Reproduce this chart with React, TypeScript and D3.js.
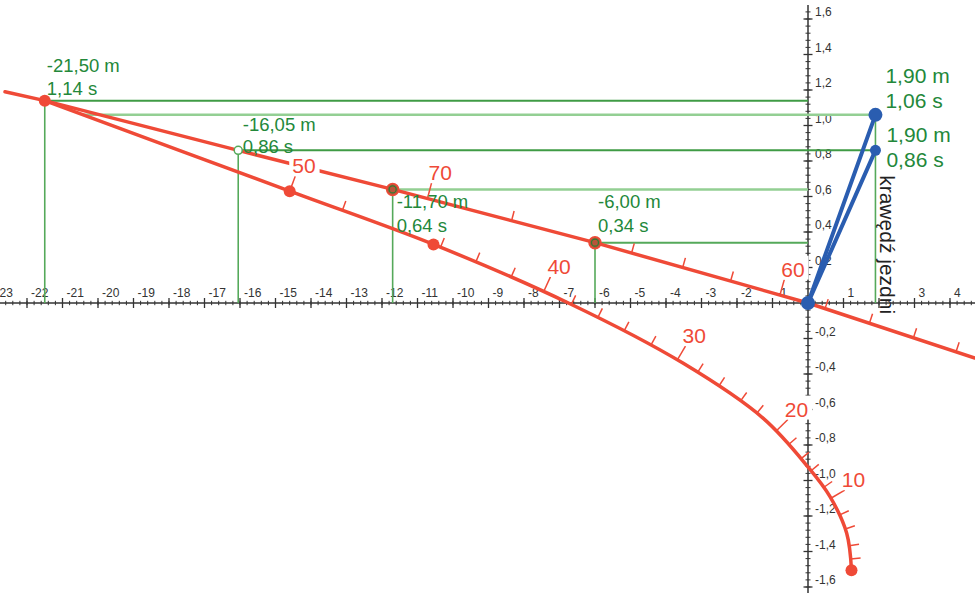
import React from 'react';
import * as d3 from 'd3';

const W = 975;
const H = 593;

// ---- axis ticks ----
const xMajorTicks: number[] = d3.range(-23, 5);
const xHiddenLabels: number[] = [0, 2];
const xMinorTicks: number[] = d3.range(-115, 25).map((i) => i * 0.2);
const yMajorTicks: number[] = d3.range(-8, 9).map((i) => +(i * 0.2).toFixed(2));
const yMinorTicks: number[] = d3.range(-41, 42).map((i) => +(i * 0.04).toFixed(3));

// ---- paths: [distance (m), time (s)] ----
const upperLine: [number, number][] = [
  [-22.62, 1.19], [-21.5, 1.14], [-16.05, 0.86], [-11.7, 0.64], [-6.0, 0.34], [0, 0], [4.7, -0.31],
];
const lowerCurve: [number, number][] = [
  [-21.5, 1.14], [-14.6, 0.63], [-10.55, 0.33], [-6.75, 0], [-3.513, -0.34],
  [-1.259, -0.65], [0.008, -0.926], [0.62, -1.091], [1.09, -1.297], [1.225, -1.505],
];

// ticks along the lower curve (by time value) and long labelled ones
const lowerTicks: number[] = [
  0.522, 0.314, 0.232, 0.147, -0.008, -0.081, -0.156, -0.236, -0.39, -0.466, -0.55, -0.62,
  -0.796, -0.877, -0.945, -1.038, -1.194, -1.273, -1.367, -1.442,
];
const lowerMarkT: number[] = [0.63, 0.065, -0.32, -0.72, -1.1];
const lowerMarkLabel: string[] = ['50', '40', '30', '20', '10'];

// ticks along the upper line (by distance value)
const upperTicks: number[] = [-8.35, -4.97, -3.53, -2.18, 0.48, 1.73, 2.97, 4.17];
const upperMarkX: number[] = [-10.72, -0.79];
const upperMarkLabel: string[] = ['70', '60'];

// annotated points
const annDist: number[] = [-21.5, -16.05, -11.7, -6.0, 1.9, 1.9];
const annTime: number[] = [1.14, 0.86, 0.64, 0.34, 1.06, 0.86];

// lower-curve dots
const lowerDots: [number, number][] = [[-21.5, 1.14], [-14.6, 0.63], [-10.55, 0.33], [1.225, -1.505]];

const RED = '#ef4a37';
const BLUE = '#2a5db0';
const GREEN_TXT = '#23883a';
const GREEN_DARK = '#3f9b45';
const GREEN_LIGHT = '#93cf93';
const GREEN_MID = '#55a95a';
const AXIS = '#333';
const FONT = '"Liberation Sans", Arial, sans-serif';

const fmtComma = (v: number, d: number) => v.toFixed(d).replace('.', ',');

type P = [number, number];

// sample a d3 curve into a dense polyline (pixel space)
function densify(pts: P[], curve: d3.CurveFactory): P[] {
  const out: P[] = [];
  let cx = 0;
  let cy = 0;
  const ctx: any = {
    moveTo(x: number, y: number) { cx = x; cy = y; out.push([x, y]); },
    lineTo(x: number, y: number) { cx = x; cy = y; out.push([x, y]); },
    bezierCurveTo(x1: number, y1: number, x2: number, y2: number, x: number, y: number) {
      for (let k = 1; k <= 30; k++) {
        const s = k / 30;
        const u = 1 - s;
        out.push([
          u * u * u * cx + 3 * u * u * s * x1 + 3 * u * s * s * x2 + s * s * s * x,
          u * u * u * cy + 3 * u * u * s * y1 + 3 * u * s * s * y2 + s * s * s * y,
        ]);
      }
      cx = x; cy = y;
    },
    closePath() {},
  };
  d3.line<P>().curve(curve).context(ctx)(pts);
  return out;
}

function interpBy(pts: P[], key: 0 | 1, v: number): P {
  for (let i = 0; i < pts.length - 1; i++) {
    const a = pts[i][key];
    const b = pts[i + 1][key];
    if (a !== b && (v - a) * (v - b) <= 0) {
      const f = (v - a) / (b - a);
      return [
        pts[i][0] + f * (pts[i + 1][0] - pts[i][0]),
        pts[i][1] + f * (pts[i + 1][1] - pts[i][1]),
      ];
    }
  }
  return pts[pts.length - 1];
}

export default function App() {
  const xS = d3.scaleLinear().domain([0, 1]).range([808, 843.5]);
  const yS = d3.scaleLinear().domain([0, 1]).range([303, 125.5]);
  const toPx = (d: P): P => [xS(d[0]), yS(d[1])];

  const upperPx = upperLine.map(toPx);
  const lowerPx = lowerCurve.map(toPx);
  const lowerDense = densify(lowerPx, d3.curveCatmullRom.alpha(0.5));

  // key 1: parameterised by pixel y (from time), key 0: by pixel x (from distance)
  const tickGeom = (poly: P[], key: 0 | 1, pv: number, len: number) => {
    const p = interpBy(poly, key, pv);
    const a = interpBy(poly, key, pv - 2);
    const b = interpBy(poly, key, pv + 2);
    let dx = b[0] - a[0];
    let dy = b[1] - a[1];
    const L = Math.hypot(dx, dy) || 1;
    dx /= L;
    dy /= L;
    return { x0: p[0], y0: p[1], x1: p[0] + dy * len, y1: p[1] - dx * len };
  };
  const lowerTick = (t: number, len: number) => tickGeom(lowerDense, 1, yS(t), len);
  const upperTick = (x: number, len: number) => tickGeom(upperPx, 0, xS(x), len);

  const upperGen = d3.line<P>();
  const lowerGen = d3.line<P>().curve(d3.curveCatmullRom.alpha(0.5));

  const x0Axis = xS(0);
  const y0Axis = yS(0);

  // green guides
  const lowerAt106 = interpBy(lowerDense, 1, yS(1.06))[0];
  const hGuides = [
    { t: 1.14, a: xS(-21.5), b: xS(0), c: GREEN_DARK, w: 2 },
    { t: 1.06, a: lowerAt106, b: xS(1.9), c: GREEN_LIGHT, w: 2.5 },
    { t: 0.86, a: xS(-16.05), b: xS(1.9), c: GREEN_DARK, w: 2 },
    { t: 0.64, a: xS(-11.7), b: xS(0), c: GREEN_LIGHT, w: 2.5 },
    { t: 0.34, a: xS(-6.0), b: xS(0), c: GREEN_MID, w: 2 },
  ];
  const vGuides = [0, 1, 2, 3, 4].map((i) => ({ x: annDist[i], t: annTime[i] }));

  const annStyle = [
    { dx: 2, dy: -29, gap: 23, fs: 18.5 },
    { dx: 4.5, dy: -19, gap: 22, fs: 18.5 },
    { dx: 4, dy: 19, gap: 23.5, fs: 18.5 },
    { dx: 3, dy: -35, gap: 24, fs: 18.5 },
    { dx: 10, dy: -32, gap: 25, fs: 21 },
    { dx: 11, dy: -8, gap: 25, fs: 21 },
  ];

  const redFs = 21;
  const redMarks = [
    ...lowerMarkT.map((t, i) => ({ g: lowerTick(t, 16), label: lowerMarkLabel[i] })),
    ...upperMarkX.map((x, i) => ({ g: upperTick(x, 16), label: upperMarkLabel[i] })),
  ];

  return (
    <svg
      width={W}
      height={H}
      style={{ position: 'absolute', left: 0, top: 0, background: '#fff' }}
      fontFamily={FONT}
    >
      <rect x={0} y={0} width={W} height={H} fill="#fff" />

      {/* axes */}
      <g stroke={AXIS}>
        <line x1={0} x2={W} y1={y0Axis} y2={y0Axis} strokeWidth={1.5} />
        <line x1={x0Axis} x2={x0Axis} y1={5} y2={H} strokeWidth={1.5} />
        {xMinorTicks.map((v, i) => (
          <line key={'xm' + i} x1={xS(v)} x2={xS(v)} y1={y0Axis - 2.2} y2={y0Axis + 2.2} strokeWidth={1} />
        ))}
        {xMajorTicks.map((v) => (
          <line key={'xM' + v} x1={xS(v)} x2={xS(v)} y1={y0Axis - 5} y2={y0Axis + 5} strokeWidth={1.3} />
        ))}
        {yMinorTicks.map((v, i) => (
          <line key={'ym' + i} x1={x0Axis - 2.5} x2={x0Axis + 2.5} y1={yS(v)} y2={yS(v)} strokeWidth={1} />
        ))}
        {yMajorTicks.map((v) => (
          <line key={'yM' + v} x1={x0Axis - 4.5} x2={x0Axis + 4.5} y1={yS(v)} y2={yS(v)} strokeWidth={1.3} />
        ))}
      </g>
      <g fill={AXIS} fontSize={12}>
        {xMajorTicks
          .filter((v) => !xHiddenLabels.includes(v))
          .map((v) => (
            <text key={'xl' + v} x={xS(v) + 4} y={y0Axis - 6}>
              {String(v)}
            </text>
          ))}
        {yMajorTicks
          .filter((v) => v !== 0)
          .map((v) => (
            <text key={'yl' + v} x={x0Axis + 7} y={yS(v) - 3}>
              {fmtComma(v, 1)}
            </text>
          ))}
      </g>

      {/* green guide lines */}
      {hGuides.map((g, i) => (
        <line key={'hg' + i} x1={g.a} x2={g.b} y1={yS(g.t)} y2={yS(g.t)} stroke={g.c} strokeWidth={g.w} />
      ))}
      {vGuides.map((g, i) => (
        <line key={'vg' + i} x1={xS(g.x)} x2={xS(g.x)} y1={yS(g.t)} y2={y0Axis} stroke={GREEN_MID} strokeWidth={1.6} />
      ))}

      {/* red paths */}
      <path d={upperGen(upperPx) || ''} fill="none" stroke={RED} strokeWidth={3.5} strokeLinecap="round" />
      <path d={lowerGen(lowerPx) || ''} fill="none" stroke={RED} strokeWidth={3.5} strokeLinecap="round" />

      {/* red ticks */}
      <g stroke={RED} strokeWidth={1.5}>
        {lowerTicks.map((t, i) => {
          const g = lowerTick(t, 10);
          return <line key={'lt' + i} x1={g.x0} y1={g.y0} x2={g.x1} y2={g.y1} />;
        })}
        {upperTicks.map((x, i) => {
          const g = upperTick(x, 10);
          return <line key={'ut' + i} x1={g.x0} y1={g.y0} x2={g.x1} y2={g.y1} />;
        })}
        {redMarks.map((m, i) => (
          <line key={'mt' + i} x1={m.g.x0} y1={m.g.y0} x2={m.g.x1} y2={m.g.y1} />
        ))}
      </g>

      {/* red labels with white boxes */}
      {redMarks.map((m, i) => {
        const w = m.label.length * 0.556 * redFs;
        const bx = m.g.x1 - 3;
        const by = m.g.y1 - 3;
        return (
          <g key={'ml' + i}>
            <rect x={bx - 3} y={by - 21} width={w + 7} height={24} fill="#fff" />
            <text x={bx} y={by} fontSize={redFs} fill={RED}>
              {m.label}
            </text>
          </g>
        );
      })}

      {/* green annotation text */}
      {annDist.map((x, i) => {
        const s = annStyle[i];
        const px = xS(x) + s.dx;
        const py = yS(annTime[i]) + s.dy;
        return (
          <g key={'an' + i} fill={GREEN_TXT} fontSize={s.fs}>
            <text x={px} y={py}>{fmtComma(x, 2) + ' m'}</text>
            <text x={px} y={py + s.gap}>{fmtComma(annTime[i], 2) + ' s'}</text>
          </g>
        );
      })}

      {/* blue segments */}
      {[4, 5].map((i) => (
        <line
          key={'bl' + i}
          x1={xS(0)}
          y1={yS(0)}
          x2={xS(annDist[i])}
          y2={yS(annTime[i])}
          stroke={BLUE}
          strokeWidth={4}
          strokeLinecap="round"
        />
      ))}

      {/* markers */}
      {lowerDots.map((d, i) => (
        <circle key={'ld' + i} cx={xS(d[0])} cy={yS(d[1])} r={6} fill={RED} />
      ))}
      <circle cx={xS(annDist[1])} cy={yS(annTime[1])} r={4} fill="#fff" stroke={GREEN_MID} strokeWidth={1.5} />
      {[2, 3].map((i) => (
        <g key={'um' + i}>
          <circle cx={xS(annDist[i])} cy={yS(annTime[i])} r={6} fill="#b8553a" stroke={RED} strokeWidth={1.5} />
          <circle cx={xS(annDist[i])} cy={yS(annTime[i])} r={3.5} fill="none" stroke="#2e7d32" strokeWidth={1.3} />
        </g>
      ))}
      <circle cx={xS(0)} cy={yS(0)} r={7} fill={BLUE} />
      <circle cx={xS(annDist[4])} cy={yS(annTime[4])} r={7} fill={BLUE} />
      <circle cx={xS(annDist[5])} cy={yS(annTime[5])} r={5.5} fill={BLUE} />

      {/* road edge text */}
      <text
        transform={`translate(${xS(1.9) + 5},${yS(0.72)}) rotate(90)`}
        fontSize={21}
        fill="#222"
      >
        krawędź jezdni
      </text>
    </svg>
  );
}
